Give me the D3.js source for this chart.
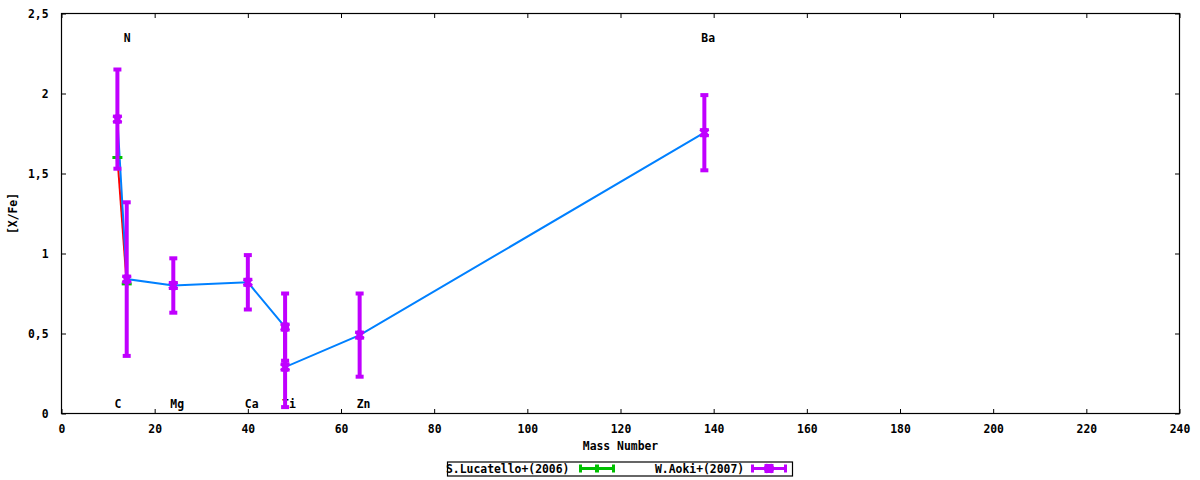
<!DOCTYPE html>
<html><head><meta charset="utf-8">
<script src="https://cdn.jsdelivr.net/npm/d3@7"></script>
<style>
html,body{margin:0;padding:0;background:#fff;}
text{font-family:"DejaVu Sans Mono",monospace;font-weight:bold;font-size:11.4px;fill:#000;}
</style></head>
<body><svg id="c" width="1200" height="480"></svg>
<script>
// ---- data ----
const xTicks = [0,20,40,60,80,100,120,140,160,180,200,220,240];
const yTicks = [0,0.5,1,1.5,2,2.5];
const yTickLabels = ["0","0,5","1","1,5","2","2,5"];

const lucatelloName = "S.Lucatello+(2006)";
const lucatelloMass = [12,14];
const lucatelloVal  = [1.60,0.81];

const aokiName = "W.Aoki+(2007)";
const aokiMass = [12,14,24,40,48,48,64,138];
const aokiVal  = [1.84,0.84,0.80,0.82,0.54,0.29,0.49,1.755];
const aokiErr  = [0.31,0.48,0.17,0.17,0.21,0.25,0.26,0.235];

const elemNames = ["C","N","Mg","Ca","Ti","Zn","Ba"];
const elemMass  = [12,14,24,40,48,64,138];
const elemY     = [0.06,2.35,0.06,0.06,0.06,0.06,2.35];

// ---- drawing ----
const svg = d3.select("#c");
const L=61.5, R=1179.5, T=13.5, B=413.5;
const x = d3.scaleLinear().domain([0,240]).range([L,R]);
const y = d3.scaleLinear().domain([0,2.5]).range([B,T]);
const RED="#ff0000", GREEN="#00c000", BLUE="#0080ff", MAG="#c000ff";

// frame
svg.append("rect").attr("x",L).attr("y",T).attr("width",R-L).attr("height",B-T)
  .attr("fill","none").attr("stroke","#000").attr("stroke-width",1.2);

// axes via d3 axis (ticks inward)
const gx = svg.append("g").attr("transform",`translate(0,${B})`)
  .call(d3.axisBottom(x).tickValues(xTicks).tickSizeInner(-4.5).tickSizeOuter(0).tickPadding(13).tickFormat(d3.format("d")));
const gxt = svg.append("g").attr("transform",`translate(0,${T})`)
  .call(d3.axisTop(x).tickValues(xTicks).tickSizeInner(-4.5).tickSizeOuter(0).tickFormat(""));
const gy = svg.append("g").attr("transform",`translate(${L},0)`)
  .call(d3.axisLeft(y).tickValues(yTicks).tickSizeInner(-4.5).tickSizeOuter(0).tickPadding(13)
  .tickFormat((d,i)=>yTickLabels[i]));
const gyr = svg.append("g").attr("transform",`translate(${R},0)`)
  .call(d3.axisRight(y).tickValues(yTicks).tickSizeInner(-4.5).tickSizeOuter(0).tickFormat(""));
[gx,gxt,gy,gyr].forEach(g=>{
  g.select(".domain").remove();
  g.selectAll("line").attr("stroke","#000");
  g.selectAll("text").attr("font-family",null).attr("font-size",null).attr("fill","#000");
});
gx.selectAll("text").attr("dy","0.6em");

// axis titles
svg.append("text").attr("x",(L+R)/2).attr("y",446).attr("text-anchor","middle")
  .attr("dominant-baseline","central").text("Mass Number");
svg.append("text").attr("transform",`translate(13,${(T+B)/2}) rotate(-90)`)
  .attr("text-anchor","middle").attr("dominant-baseline","central").text("[X/Fe]");

// lines
const line = d3.line().x(d=>x(d[0])).y(d=>y(d[1]));
svg.append("path").datum(lucatelloMass.map((m,i)=>[m,lucatelloVal[i]]))
  .attr("d",line).attr("fill","none").attr("stroke",RED).attr("stroke-width",2);
svg.append("path").datum(aokiMass.map((m,i)=>[m,aokiVal[i]]))
  .attr("d",line).attr("fill","none").attr("stroke",BLUE).attr("stroke-width",2);

// element labels
svg.append("g").selectAll("text").data(elemNames).join("text")
  .attr("x",(d,i)=>x(elemMass[i])).attr("dx",-3)
  .attr("y",(d,i)=>y(elemY[i])).attr("dominant-baseline","central")
  .attr("text-anchor","start").text(d=>d);

// Lucatello points
const gl = svg.append("g");
lucatelloMass.forEach((m,i)=>{
  const cx=x(m), cy=y(lucatelloVal[i]);
  gl.append("line").attr("x1",cx-5).attr("x2",cx+5).attr("y1",cy).attr("y2",cy)
    .attr("stroke",GREEN).attr("stroke-width",3);
  gl.append("line").attr("x1",cx).attr("x2",cx).attr("y1",cy-4).attr("y2",cy+4)
    .attr("stroke",GREEN).attr("stroke-width",3);
});

// Aoki error bars
function xMarker(g,cx,cy,col){
  g.append("path").attr("d",`M${cx-3.5},${cy-3.5}L${cx+3.5},${cy+3.5}M${cx-3.5},${cy+3.5}L${cx+3.5},${cy-3.5}`)
    .attr("stroke",col).attr("stroke-width",4).attr("stroke-linecap","butt").attr("fill","none");
  g.append("rect").attr("x",cx-4.5).attr("y",cy-4.5).attr("width",9).attr("height",3).attr("fill",col);
  g.append("rect").attr("x",cx-4.5).attr("y",cy+1.5).attr("width",9).attr("height",3).attr("fill",col);
}
const ga = svg.append("g");
aokiMass.forEach((m,i)=>{
  const cx=x(m), cy=y(aokiVal[i]);
  const y1=y(aokiVal[i]+aokiErr[i]), y2=y(aokiVal[i]-aokiErr[i]);
  ga.append("line").attr("x1",cx).attr("x2",cx).attr("y1",y1).attr("y2",y2)
    .attr("stroke",MAG).attr("stroke-width",4);
  [y1,y2].forEach(yy=>ga.append("line").attr("x1",cx-4).attr("x2",cx+4).attr("y1",yy).attr("y2",yy)
    .attr("stroke",MAG).attr("stroke-width",4));
  xMarker(ga,cx,cy,MAG);
});

// legend
const lg = svg.append("g");
lg.append("rect").attr("x",447.5).attr("y",462).attr("width",345).attr("height",14)
  .attr("fill","#fff").attr("stroke","#000").attr("stroke-width",1.2);
lg.append("text").attr("x",446).attr("y",469).attr("dominant-baseline","central").text(lucatelloName);
lg.append("text").attr("x",655).attr("y",469).attr("dominant-baseline","central").text(aokiName);
function sample(x0,x1,col,mark){
  const cy=468.5;
  lg.append("line").attr("x1",x0).attr("x2",x1).attr("y1",cy).attr("y2",cy).attr("stroke",col).attr("stroke-width",3);
  [x0,x1].forEach(xx=>lg.append("line").attr("x1",xx).attr("x2",xx).attr("y1",cy-4).attr("y2",cy+4)
    .attr("stroke",col).attr("stroke-width",3));
  const mx=(x0+x1)/2;
  if(mark==="x") xMarker(lg,mx,cy,col);
  else lg.append("line").attr("x1",mx).attr("x2",mx).attr("y1",cy-4).attr("y2",cy+4).attr("stroke",col).attr("stroke-width",4);
}
sample(580.5,613.5,GREEN,"+");
sample(752.5,785.5,MAG,"x");
</script></body></html>
